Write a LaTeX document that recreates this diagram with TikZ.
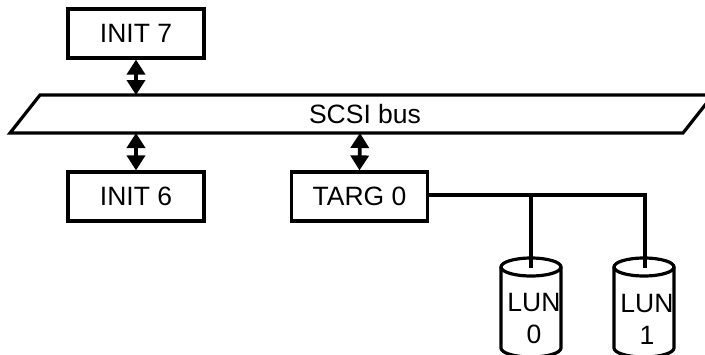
\documentclass[tikz,border=0pt]{standalone}
\usepackage{fontspec}
\setmainfont{Liberation Sans}
\usetikzlibrary{arrows.meta}
\begin{document}
\begin{tikzpicture}[x=1pt,y=-1pt,
  line width=3.2pt,
  box/.style={draw,line width=3.2pt,minimum width=136pt,minimum height=49pt,font=\fontsize{26.5}{29}\selectfont,inner sep=0pt},
  dbl/.style={{Triangle[width=18pt,length=15pt]}-{Triangle[width=18pt,length=15pt]},line width=3.6pt},
  lbl/.style={font=\fontsize{26.5}{29}\selectfont,inner sep=0pt}]
\useasboundingbox (0,0) rectangle (705,354);
\clip (0,0) rectangle (705,354);
% bus
\draw[line join=miter] (40,95) -- (713,95) -- (683,133) -- (10,133) -- cycle;
\node[lbl] (bus) at (365,114) {SCSI bus};
\coordinate (bustop1) at (136,95);
\coordinate (busbot1) at (136,133);
\coordinate (busbot2) at (360,133);
% boxes
\node[box] (i7) at (136,33.5) {INIT 7};
\node[box] (i6) at (136,196.5) {INIT 6};
\node[box] (t0) at (359.5,196.5) {TARG 0};
\draw[dbl] (i7.south) -- (bustop1);
\draw[dbl] (busbot1) -- (i6.north);
\draw[dbl] (busbot2) -- (t0.north);
% cylinders
\foreach \cx in {531,644}{
  \draw[fill=white] (\cx-30,267) -- (\cx-30,348) arc[start angle=180,end angle=0,x radius=30,y radius=9] -- (\cx+30,267);
  \draw (\cx,267) ellipse[x radius=30,y radius=9];
}
\coordinate (c0) at (531,268);
\coordinate (c1) at (645,268);
\node[font=\fontsize{26.5}{32}\selectfont,align=center,inner sep=0pt] (l0) at (534,319) {LUN\\0};
\node[font=\fontsize{26.5}{32}\selectfont,align=center,inner sep=0pt] (l1) at (647,319) {LUN\\1};
% TARG connections
\draw (t0.east |- 0,195) -- (c1 |- 0,195) coordinate (j1) -- (c1);
\draw (c0 |- 0,195) -- (c0);
\end{tikzpicture}
\end{document}
